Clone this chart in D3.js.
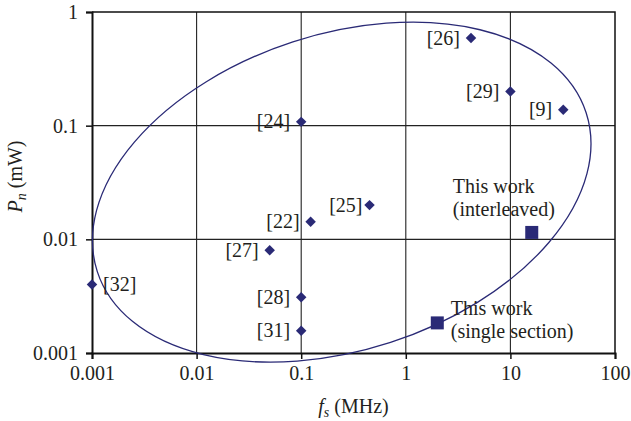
<!DOCTYPE html>
<html>
<head>
<meta charset="utf-8">
<script src="https://cdn.jsdelivr.net/npm/d3@7"></script>
<style>
  body { margin: 0; background: #fff; }
  text { font-family: "Liberation Serif", "DejaVu Serif", serif; fill: #231f20; }
</style>
</head>
<body>
<script>

// published works: reference tag, sampling rate fs (MHz), noise power Pn (mW)
var refs = ["[26]", "[29]", "[9]", "[24]", "[25]", "[22]", "[27]", "[32]", "[28]", "[31]"];
var refFs = [4.2, 10, 32, 0.1, 0.45, 0.123, 0.05, 0.001, 0.1, 0.1];
var refPn = [0.59, 0.2, 0.138, 0.108, 0.02, 0.0143, 0.008, 0.004, 0.0031, 0.00157];

// this work
var ownLabels = [["This work", "(interleaved)"], ["This work", "(single section)"]];
var ownFs = [16, 2];
var ownPn = [0.0115, 0.00184];

var xTicks = [0.001, 0.01, 0.1, 1, 10, 100];
var yTicks = [0.001, 0.01, 0.1, 1];

// outline around the published works (center in data units)
var ringCenter = [0.244, 0.026];

var navy = "#2a2a76";
var fontSize = "20px";

var margin = {top: 12, right: 16, bottom: 68, left: 92},
    width = 631 - margin.left - margin.right,
    height = 421 - margin.top - margin.bottom;

var x = d3.scaleLog().domain([0.001, 100]).range([0, width]);
var y = d3.scaleLog().domain([0.001, 1]).range([height, 0]);

var svg = d3.select("body").append("svg")
    .attr("width", 631)
    .attr("height", 421)
  .append("g")
    .attr("transform", "translate(" + margin.left + "," + margin.top + ")");

// grid
svg.selectAll(".vgrid").data(xTicks.slice(1, -1)).enter().append("line")
    .attr("x1", d => x(d)).attr("x2", d => x(d))
    .attr("y1", 0).attr("y2", height)
    .attr("stroke", "#222").attr("stroke-width", 1.1);
svg.selectAll(".hgrid").data(yTicks.slice(1, -1)).enter().append("line")
    .attr("x1", 0).attr("x2", width)
    .attr("y1", d => y(d)).attr("y2", d => y(d))
    .attr("stroke", "#222").attr("stroke-width", 1.1);

// top and right frame
svg.append("path")
    .attr("d", "M0,0H" + width + "V" + height)
    .attr("fill", "none").attr("stroke", "#111").attr("stroke-width", 1.5);

var xAxis = svg.append("g")
    .attr("transform", "translate(0," + height + ")")
    .call(d3.axisBottom(x).tickValues(xTicks).tickFormat(d => String(d)).tickSizeOuter(0).tickSize(6).tickPadding(7));
var yAxis = svg.append("g")
    .call(d3.axisLeft(y).tickValues(yTicks).tickFormat(d => String(d)).tickSizeOuter(0).tickSize(6).tickPadding(8));

[xAxis, yAxis].forEach(function(a) {
  a.select(".domain").attr("stroke", "#111").attr("stroke-width", 2);
  a.selectAll(".tick line").attr("stroke", "#111").attr("stroke-width", 1.5);
  a.selectAll(".tick text")
      .style("font-family", '"Liberation Serif", serif')
      .style("font-size", fontSize).attr("fill", "#231f20");
});

// ellipse
svg.append("ellipse")
    .attr("transform", "translate(" + x(ringCenter[0]) + "," + y(ringCenter[1]) + ") rotate(-18)")
    .attr("rx", 257).attr("ry", 158)
    .attr("fill", "none").attr("stroke", navy).attr("stroke-width", 1.3);

// published points
var diamond = d3.symbol().type(d3.symbolDiamond2).size(70);
svg.selectAll(".ref").data(refs).enter().append("path")
    .attr("d", diamond)
    .attr("transform", (d, i) => "translate(" + x(refFs[i]) + "," + y(refPn[i]) + ")")
    .attr("fill", navy);

svg.selectAll(".reflab").data(refs).enter().append("text")
    .attr("x", (d, i) => x(refFs[i]) + (d == "[32]" ? 11 : (d == "[25]" ? -7 : -11)))
    .attr("y", (d, i) => y(refPn[i]))
    .attr("dy", "0.33em")
    .attr("text-anchor", d => d == "[32]" ? "start" : "end")
    .style("font-size", fontSize)
    .text(d => d);

// this work
svg.selectAll(".own").data(ownFs).enter().append("rect")
    .attr("x", (d, i) => x(d) - 6.5)
    .attr("y", (d, i) => y(ownPn[i]) - 6.5)
    .attr("width", 13).attr("height", 13)
    .attr("fill", navy);

var ownOffset = [[-79, -39], [13.5, -7.5]];
ownLabels.forEach(function(lines, i) {
  var x0 = x(ownFs[i]) + ownOffset[i][0];
  var t = svg.append("text")
      .attr("y", y(ownPn[i]) + ownOffset[i][1])
      .style("font-size", fontSize);
  lines.forEach(function(s, j) {
    t.append("tspan")
        .attr("x", x0)
        .attr("dy", j == 0 ? 0 : 23)
        .text(s);
  });
});

// axis titles
var xt = svg.append("text")
    .attr("x", width / 2)
    .attr("y", height + 60)
    .attr("text-anchor", "middle")
    .style("font-size", fontSize);
xt.append("tspan").style("font-style", "italic").text("f");
xt.append("tspan").style("font-style", "italic").style("font-size", "14px").attr("dy", 4).text("s");
xt.append("tspan").attr("dy", -4).text(" (MHz)");

var yt = svg.append("text")
    .attr("transform", "translate(" + (-70) + "," + (height / 2 - 6) + ") rotate(-90)")
    .attr("text-anchor", "middle")
    .style("font-size", fontSize);
yt.append("tspan").style("font-style", "italic").text("P");
yt.append("tspan").style("font-style", "italic").style("font-size", "14px").attr("dy", 4).text("n");
yt.append("tspan").attr("dy", -4).text(" (mW)");

</script>
</body>
</html>
